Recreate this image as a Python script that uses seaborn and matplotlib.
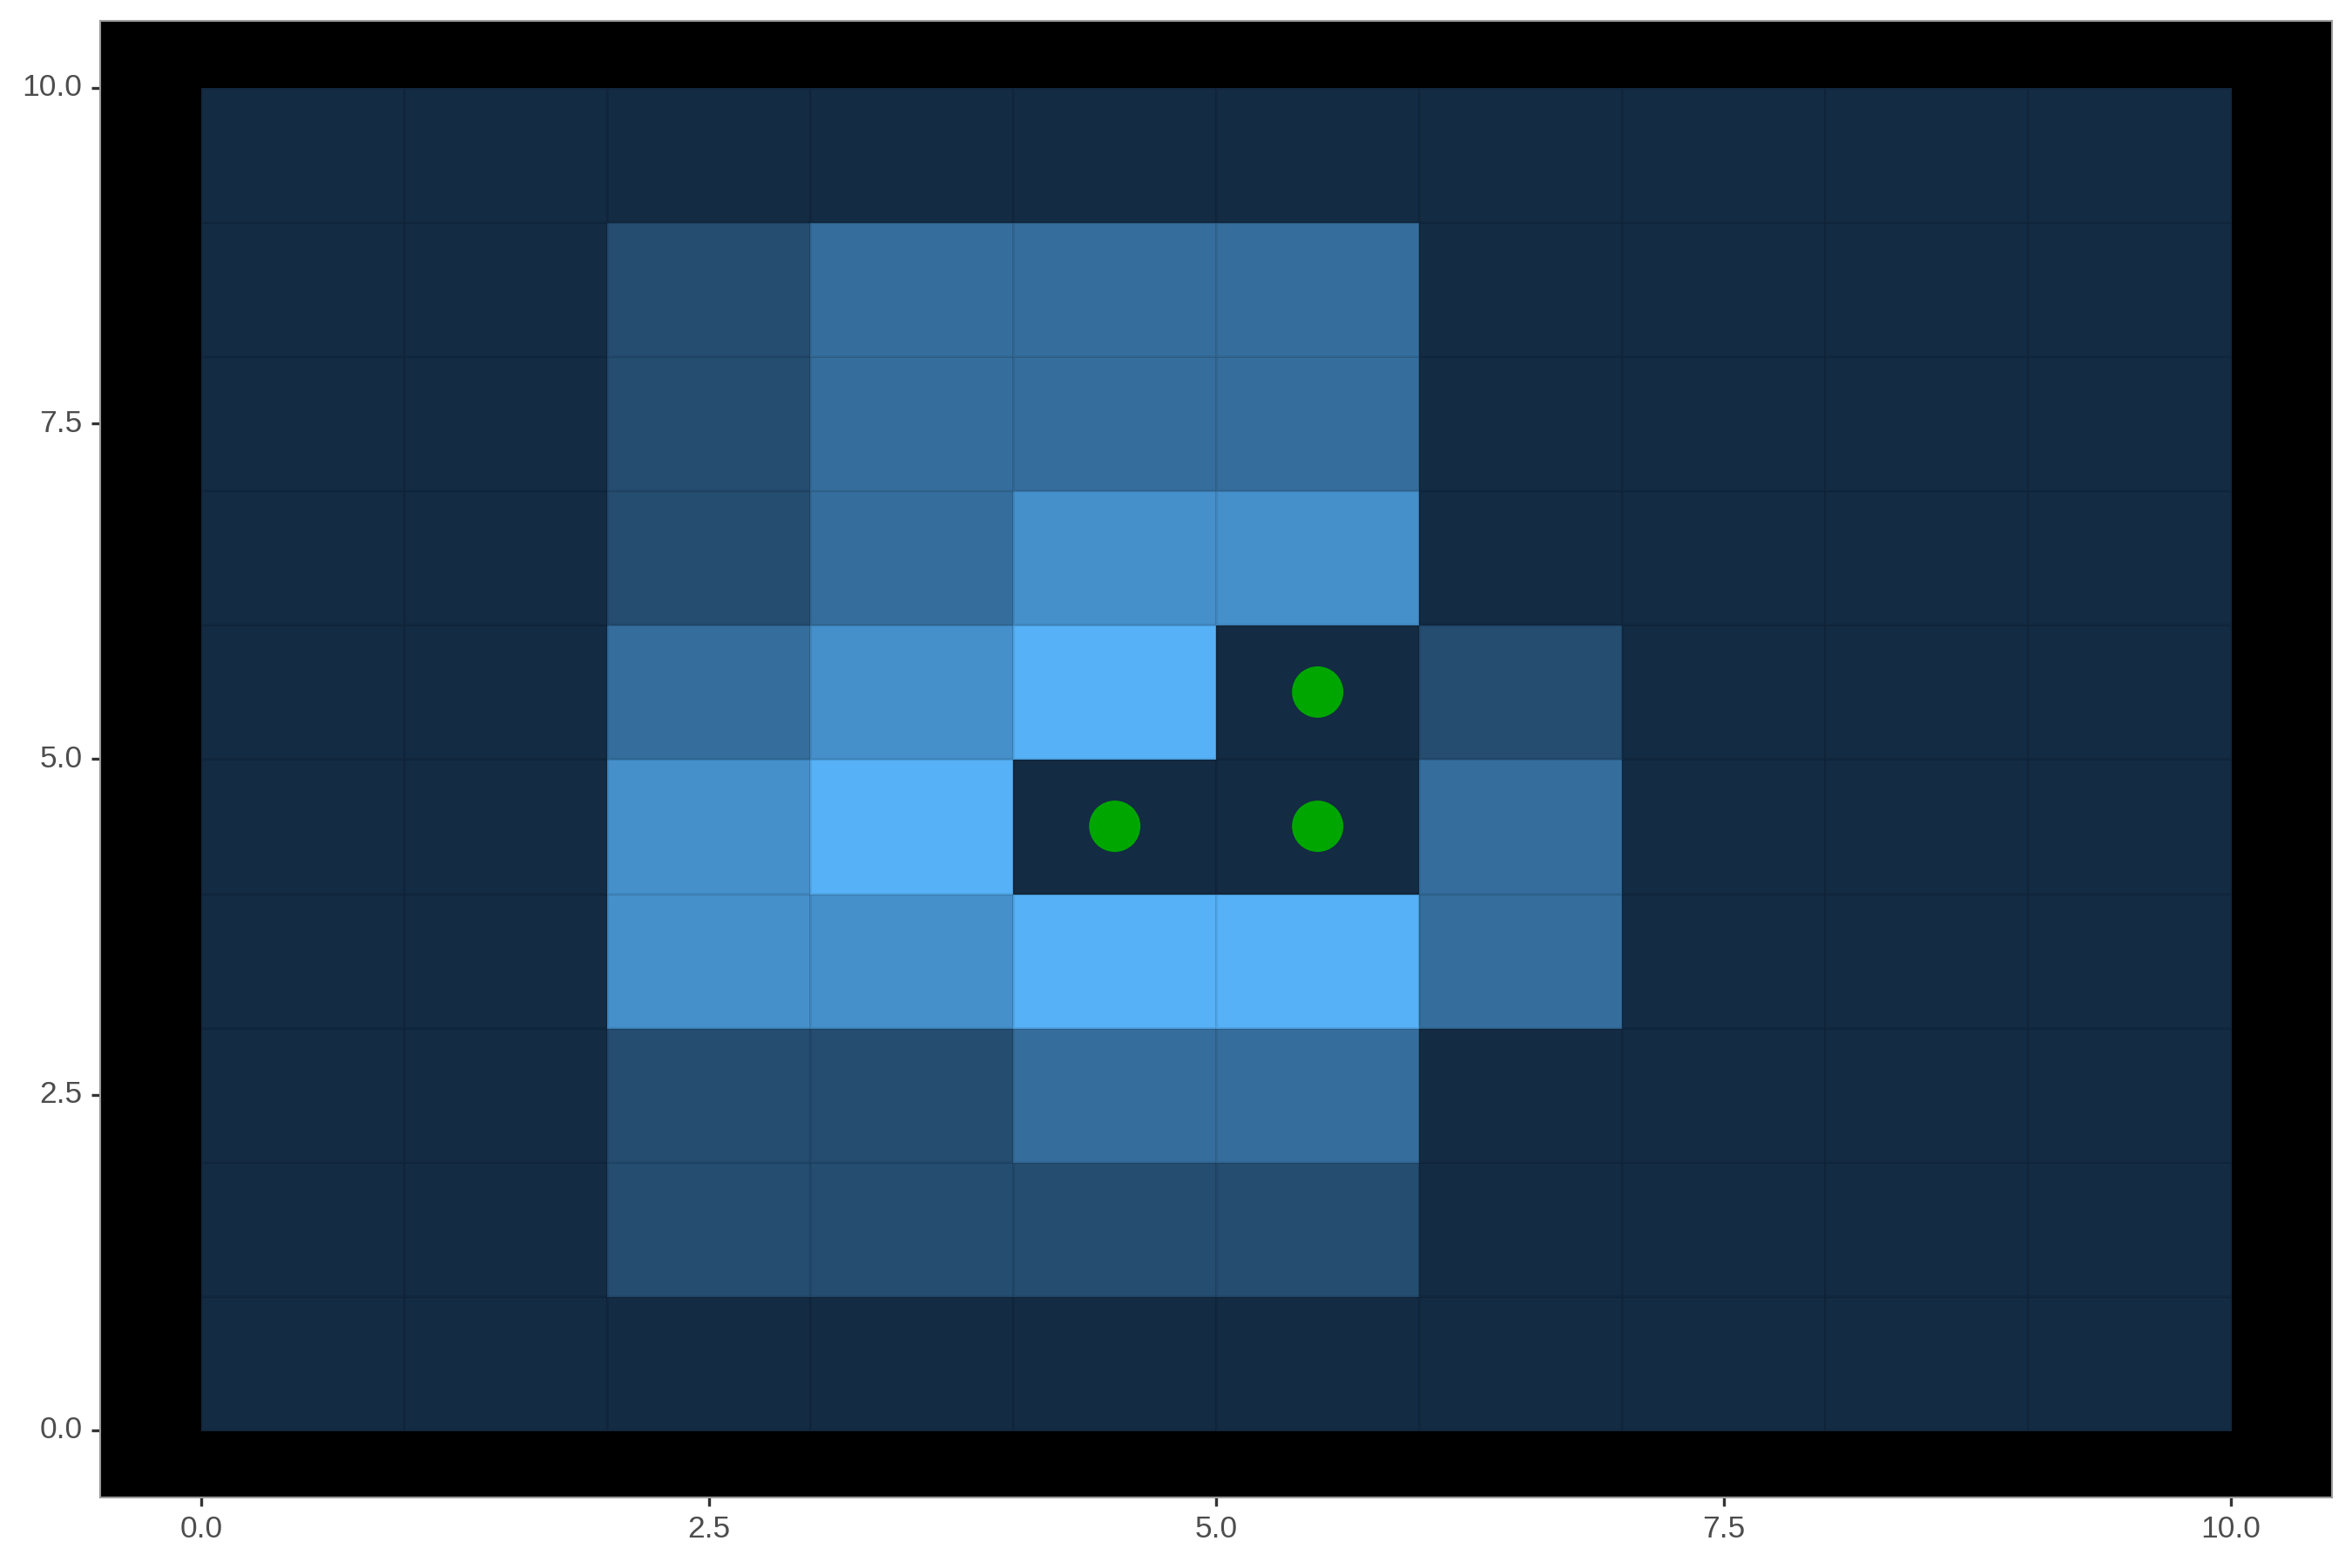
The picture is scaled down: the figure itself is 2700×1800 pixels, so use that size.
import matplotlib
matplotlib.use("Agg")
import matplotlib.pyplot as plt
import numpy as np
import pandas as pd
import seaborn as sns
from matplotlib.colors import LinearSegmentedColormap

# 格子取值，第一行是 y=0（最下面），每行从 x=0 到 x=9
grid_values = [
    [0, 0, 0, 0, 0, 0, 0, 0, 0, 0],
    [0, 0, 1, 1, 1, 1, 0, 0, 0, 0],
    [0, 0, 1, 1, 2, 2, 0, 0, 0, 0],
    [0, 0, 3, 3, 4, 4, 2, 0, 0, 0],
    [0, 0, 3, 4, 0, 0, 2, 0, 0, 0],
    [0, 0, 2, 3, 4, 0, 1, 0, 0, 0],
    [0, 0, 1, 2, 3, 3, 0, 0, 0, 0],
    [0, 0, 1, 2, 2, 2, 0, 0, 0, 0],
    [0, 0, 1, 2, 2, 2, 0, 0, 0, 0],
    [0, 0, 0, 0, 0, 0, 0, 0, 0, 0],
]
point_x = [4.5, 5.5, 5.5]
point_y = [4.5, 4.5, 5.5]
tick_vals = [0.0, 2.5, 5.0, 7.5, 10.0]

C_LOW = "#132B43"
C_HIGH = "#56B1F7"
C_POINT = "#00A600"
C_TEXT = "#4D4D4D"

sns.set_style("white")
plt.rcParams['font.family'] = ['Liberation Sans', 'DejaVu Sans']

fig = plt.figure(figsize=(9, 6), dpi=300)
ax = fig.add_axes([0.0426, 0.045, 0.9490, 0.9417])
ax.set_facecolor("black")

cmap = LinearSegmentedColormap.from_list("gg", [C_LOW, C_HIGH])
df = pd.DataFrame(np.array(grid_values, dtype=float))
sns.heatmap(df, ax=ax, cmap=cmap, vmin=0, vmax=4, cbar=False,
            linewidths=0.3, linecolor=(0, 0, 0, 0.08))

pts = pd.DataFrame({"x": point_x, "y": point_y})
sns.scatterplot(data=pts, x="x", y="y", ax=ax, color=C_POINT, s=200,
                edgecolor="none", zorder=5)

ax.set_xlim(-0.5, 10.5)
ax.set_ylim(-0.5, 10.5)
ax.set_xticks(tick_vals)
ax.set_yticks(tick_vals)
ax.set_xticklabels([f"{v:.1f}" for v in tick_vals], rotation=0)
ax.set_yticklabels([f"{v:.1f}" for v in tick_vals], rotation=0)
ax.set_xlabel("")
ax.set_ylabel("")
ax.tick_params(axis="both", direction="out", length=2.4, width=0.8,
               color="#333333", labelcolor=C_TEXT, labelsize=8.5, pad=2.5,
               bottom=True, left=True)

for sp in ax.spines.values():
    sp.set_visible(True)
    sp.set_color("#999999")
    sp.set_linewidth(0.5)

fig.savefig("out.png", dpi=300, facecolor="white")
